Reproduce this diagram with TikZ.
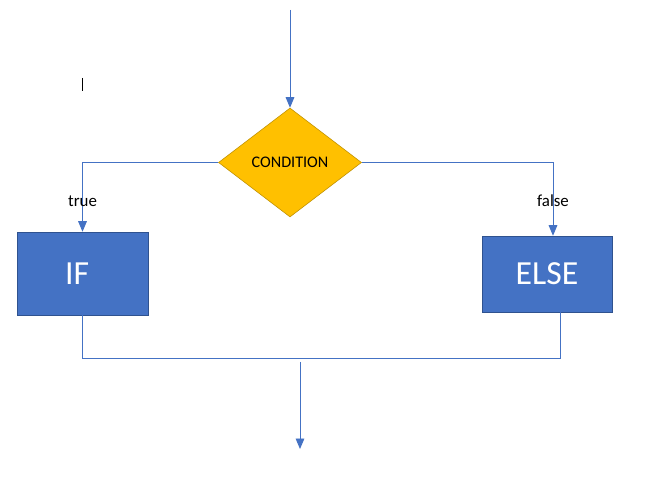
\documentclass[tikz,border=0pt]{standalone}
\usepackage{fontspec}
\setmainfont{Carlito}
\usetikzlibrary{shapes.geometric, arrows}
\definecolor{condfill}{HTML}{FFC000}
\definecolor{conddraw}{HTML}{BF9000}
\definecolor{boxfill}{HTML}{4472C4}
\definecolor{boxdraw}{HTML}{2F528F}
\definecolor{flowline}{HTML}{4472C4}
\tikzstyle{decision} = [diamond, aspect=1.31, inner sep=0pt, minimum width=3.575cm,
  minimum height=2.725cm, text centered, draw=conddraw, fill=condfill,
  font=\fontsize{11.5}{13}\selectfont]
\tikzstyle{branch} = [rectangle, minimum width=3.275cm, minimum height=2.075cm,
  text centered, draw=boxdraw, fill=boxfill, text=white,
  font=\fontsize{24}{28}\selectfont]
\tikzstyle{line} = [draw=flowline, line width=0.7pt]
\tikzstyle{arrow} = [line,->,>=triangle 45]
\tikzstyle{edgelabel} = [font=\fontsize{12}{14}\selectfont, inner sep=0pt]

\begin{document}
\begin{tikzpicture}

  \useasboundingbox [fill=white] (0,0) rectangle (16.5,11.925);

  %% Decision and the two branches
  \node (cond) [decision] at (7.25,7.8625) {CONDITION};
  \node (if) [branch] at (2.0625,5.0875) {IF\hspace*{0.27cm}};
  \node (else) [branch, minimum width=3.25cm, minimum height=1.9cm] at (13.675,5.075) {ELSE};

  %% Free ends of the flow
  \coordinate (in) at (7.25,11.675);
  \coordinate (joint) at (7.5,2.975);
  \coordinate (out) at (7.5,0.7);

  \draw [arrow] (in) -- (cond);

  \draw [arrow] (cond.west) -| node[edgelabel, pos=0.75, yshift=-0.1cm] {true} (if.north);
  \draw [arrow] (cond.east) -| node[edgelabel, pos=0.75, yshift=-0.05cm] {false} ([xshift=0.15cm]else.north);

  %% Both branches meet again below
  \draw [line] (if.south) |- (joint);
  \draw [line] ([xshift=0.325cm]else.south) |- (joint);
  \draw [arrow] ([yshift=-0.1cm]joint) -- (out);

  %% Text cursor left on the page
  \draw [black, line width=0.6pt] (2.05,9.975) -- (2.05,9.65);

\end{tikzpicture}
\end{document}
